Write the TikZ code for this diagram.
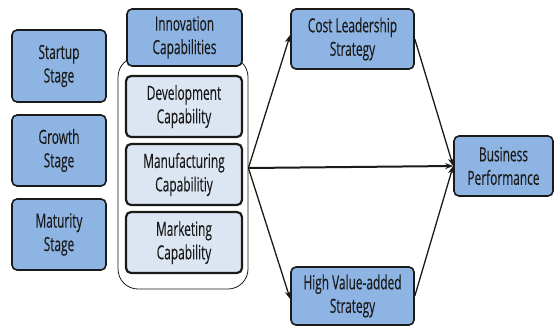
\documentclass[tikz,border=0pt]{standalone}
\usepackage{fontspec}
\setmainfont{Open Sans}[FakeStretch=0.61,FakeBold=0.15]
\usetikzlibrary{arrows.meta}
\definecolor{boxblue}{HTML}{8EB4E3}
\definecolor{boxpale}{HTML}{DCE6F2}
\definecolor{ink}{HTML}{1A1A1A}
\begin{document}
\begin{tikzpicture}[x=1pt,y=-1pt,
  every node/.style={font=\fontsize{19.5}{23.5}\selectfont, text=ink, align=center, inner sep=0pt},
  bluebox/.style={draw=ink, line width=1.6pt, fill=boxblue, rounded corners=5pt},
  palebox/.style={draw=ink, line width=2.2pt, fill=boxpale, rounded corners=5pt},
  group/.style={draw=ink, line width=0.8pt, rounded corners=20pt},
  arr/.style={-{Stealth[length=8pt,width=6pt]}, line width=1.3pt, draw=ink},
  arrthick/.style={arr, line width=2pt}]
\useasboundingbox (0,0) rectangle (554,327);

% development stages
\node[bluebox, minimum width=94pt, minimum height=72pt] (startup) at (59,66) {Startup\\Stage};
\node[bluebox, minimum width=94pt, minimum height=71pt] (growth) at (59,150.5) {Growth\\Stage};
\node[bluebox, minimum width=94pt, minimum height=71pt] (maturity) at (59,234.5) {Maturity\\Stage};

% innovation capabilities group
\node[group, minimum width=130pt, minimum height=232pt] (grp) at (183,173) {};
\node[bluebox, minimum width=115pt, minimum height=57pt] (innov) at (184.5,37.5) {Innovation\\Capabilities};
\node[palebox, minimum width=116pt, minimum height=61pt] (dev) at (184,106.5) {Development\\Capability};
\node[palebox, minimum width=116pt, minimum height=61pt] (manu) at (184,174.5) {Manufacturing\\Capabilitiy};
\node[palebox, minimum width=116pt, minimum height=61pt] (mark) at (184,242.5) {Marketing\\Capability};

% strategies and outcome
\node[bluebox, minimum width=123pt, minimum height=60pt] (cost) at (352.5,39) {Cost Leadership\\Strategy};
\node[bluebox, minimum width=123pt, minimum height=58pt] (high) at (352.5,296) {High Value-added\\Strategy};
\node[bluebox, minimum width=99pt, minimum height=60pt] (bp) at (503.5,166) {Business\\Performance};

% paths
\coordinate (hub) at (grp.east |- 0,168);
\draw[arr] (hub) -- ([yshift=4pt]cost.west);
\draw[arr] (hub) -- ([yshift=-3pt]high.west);
\draw[arrthick] (hub) -- (bp.west);
\draw[arr] (cost.east) -- (bp.west);
\draw[arr] (high.east) -- (bp.west);
\end{tikzpicture}
\end{document}
